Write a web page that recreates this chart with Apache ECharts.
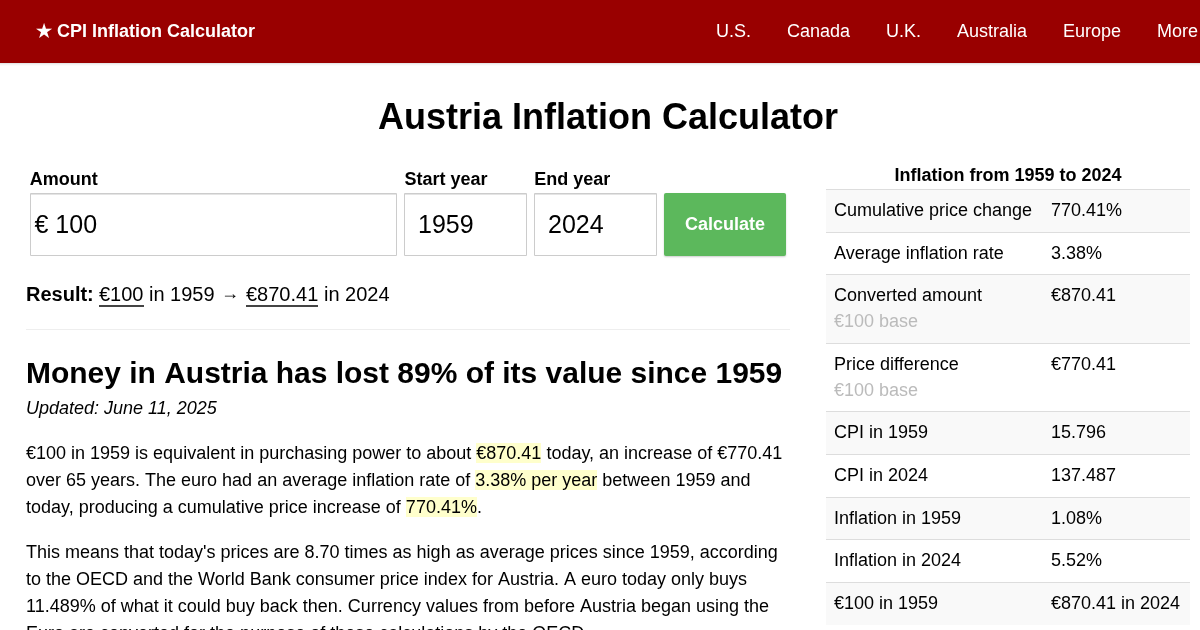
<!DOCTYPE html>
<html lang="en">
<head>
<meta charset="UTF-8">
<title>Austria Inflation Calculator</title>
<script src="https://cdn.jsdelivr.net/npm/echarts@6/dist/echarts.min.js"></script>
<style>
html,body{margin:0;padding:0;background:#fff;overflow:hidden}
#main{width:1200px;height:630px}
</style>
</head>
<body>
<div id="main"></div>
<script>
// the reference is a calculator page without any plotted series, so everything is graphic elements
var navLinks = ['U.S.', 'Canada', 'U.K.', 'Australia', 'Europe', 'More'];
var formLabels = ['Amount', 'Start year', 'End year'];
var formValues = ['€ 100', '1959', '2024'];
var tableTitle = 'Inflation from 1959 to 2024';
var tableLabels = ['Cumulative price change', 'Average inflation rate', 'Converted amount', 'Price difference',
    'CPI in 1959', 'CPI in 2024', 'Inflation in 1959', 'Inflation in 2024', '€100 in 1959'];
var tableValues = ['770.41%', '3.38%', '€870.41', '€770.41', '15.796', '137.487', '1.08%', '5.52%', '€870.41 in 2024'];
var tableNotes = ['', '', '€100 base', '€100 base', '', '', '', '', ''];
var bodyLines = [
    '€100 in 1959 is equivalent in purchasing power to about €870.41 today, an increase of €770.41',
    'over 65 years. The euro had an average inflation rate of 3.38% per year between 1959 and',
    'today, producing a cumulative price increase of 770.41%.',
    "This means that today's prices are 8.70 times as high as average prices since 1959, according",
    'to the OECD and the World Bank consumer price index for Austria. A euro today only buys',
    '11.489% of what it could buy back then. Currency values from before Austria began using the',
    'Euro are converted for the purpose of these calculations by the OECD.'
];

// layout
var FONT = '"Liberation Sans", Arial, sans-serif';
var navX = [716, 787, 886, 957, 1063, 1157];
var formX = [30, 404, 534];
var formW = [367, 123, 123];
var labelX = [29.7, 404.5, 534.3];
var valueX = [34.5, 418, 548];
var rowEdges = [189, 232, 274, 343, 411, 454, 497, 539, 582, 625];
var lineY = [454, 481, 508, 553, 580, 607, 634];
var highlights = [[476, 443, 65, 20], [475, 470, 122, 20], [406, 497, 71, 20]];

var els = [];

function text(x, y, str, size, weight, color, align) {
    els.push({
        type: 'text', x: x, y: y, z: 5, silent: true,
        style: {
            text: str, fill: color || '#000', align: align || 'left', verticalAlign: 'middle',
            font: (weight || 'normal') + ' ' + size + 'px ' + FONT
        }
    });
}
function box(x, y, w, h, fill, extra) {
    var s = { fill: fill };
    for (var k in extra) s[k] = extra[k];
    els.push({ type: 'rect', x: 0, y: 0, z: 1, silent: true, shape: { x: x, y: y, width: w, height: h, r: s.r || 0 }, style: s });
}

// nav bar
box(0, 63, 1200, 1, '#e6e6e6');
box(0, 64, 1200, 1, '#f4f4f4');
box(0, 65, 1200, 1, '#fbfbfb');
box(0, 0, 1200, 63, '#990000');
text(36, 32, '★ CPI Inflation Calculator', 18, 'bold', '#fff');
navLinks.forEach(function (name, i) { text(navX[i], 32, name, 18, 'normal', '#fff'); });

text(608, 119, 'Austria Inflation Calculator', 36, 'bold', '#000', 'center');

// form
formLabels.forEach(function (name, i) {
    text(labelX[i], 180, name, 18, 'bold', '#000');
    box(formX[i] + 0.5, 193.5, formW[i] - 1, 62, '#fff', { stroke: '#ccc', lineWidth: 1 });
    box(formX[i] + 1, 194, formW[i] - 2, 1, '#e4e4e4');
    text(valueX[i], 226, formValues[i], 25, 'normal', '#000');
});
box(664, 193, 122, 63, '#5cb85c', { r: 2, shadowColor: 'rgba(0,0,0,0.2)', shadowBlur: 2, shadowOffsetY: 1 });
text(725, 225, 'Calculate', 18, 'bold', '#fff', 'center');

// result line
text(26, 295, 'Result:', 20, 'bold', '#000');
text(99, 295, '€100', 20, 'normal', '#000');
text(149, 295, 'in 1959', 20, 'normal', '#000');
text(221, 294, '→', 18, 'normal', '#000');
text(246, 295, '€870.41', 20, 'normal', '#000');
text(324, 295, 'in 2024', 20, 'normal', '#000');
box(99, 305, 45, 2, '#444');
box(246, 305, 72, 2, '#444');
box(26, 329, 764, 1, '#eee');

// article
text(26, 375, 'Money in Austria has lost 89% of its value since 1959', 29.97, 'bold', '#000');
text(26, 409, 'Updated: June 11, 2025', 18, 'italic', '#000');
highlights.forEach(function (h) { box(h[0], h[1], h[2], h[3], '#ffffcc'); });
bodyLines.forEach(function (line, i) { text(26, lineY[i], line, 18, 'normal', '#000'); });

// side table
text(1008, 176, tableTitle, 18, 'bold', '#000', 'center');
tableLabels.forEach(function (name, i) {
    var top = rowEdges[i], bottom = rowEdges[i + 1];
    if (i % 2 === 0) box(826, top, 364, bottom - top, '#f9f9f9');
    text(834, top + 22, name, 18, 'normal', '#000');
    text(1051, top + 22, tableValues[i], 18, 'normal', '#000');
    if (tableNotes[i]) text(834, top + 48, tableNotes[i], 18, 'normal', '#bbb');
});
// last edge closes the shaded row only, it has no rule
rowEdges.slice(0, -1).forEach(function (y) { box(826, y, 364, 1, '#ddd'); });

var myChart = echarts.init(document.getElementById('main'), null, { devicePixelRatio: 1 });
myChart.setOption({ animation: false, backgroundColor: '#fff', graphic: { elements: els } });
</script>
</body>
</html>
